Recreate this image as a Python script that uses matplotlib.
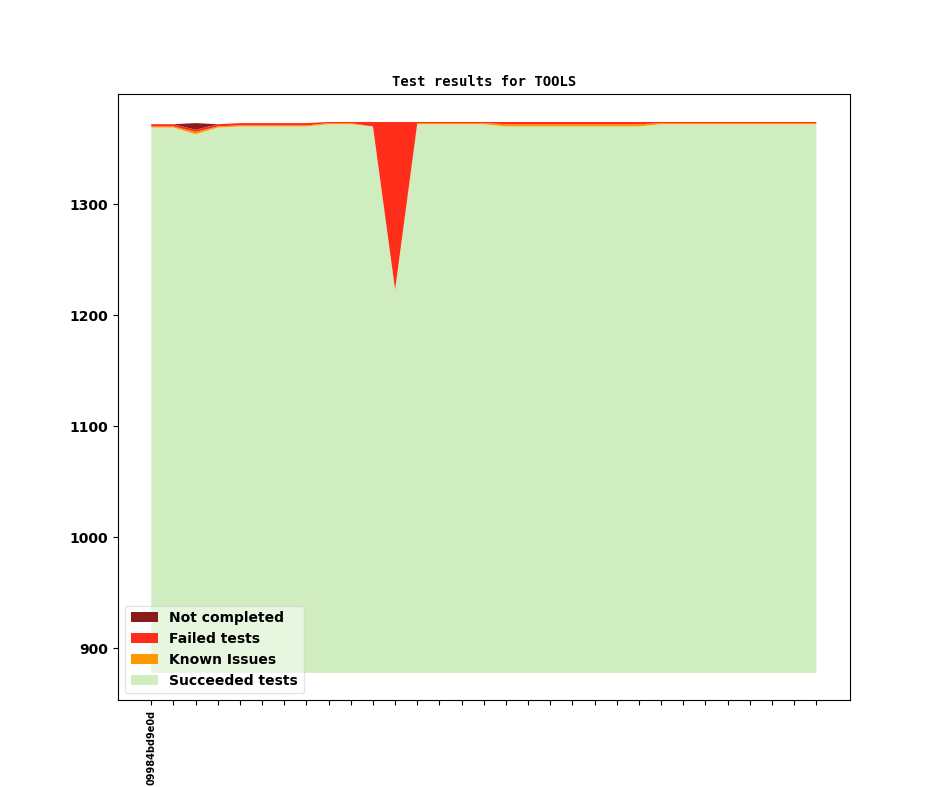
import matplotlib
matplotlib.use("Agg")
import matplotlib.pyplot as plt
import numpy as np

title = "Test results for TOOLS"
tick_labels = ["09984bd9e0d"] + [""] * 30

succeeded = [1369, 1369, 1363, 1369, 1370, 1370, 1370, 1370, 1372, 1372, 1370, 1223,
             1372, 1372, 1372, 1372, 1370, 1370, 1370, 1370, 1370, 1370, 1370,
             1372, 1372, 1372, 1372, 1372, 1372, 1372, 1372]
known = [1, 1, 2, 1, 1, 1, 1, 1, 1, 1, 0, 0,
         1, 1, 1, 1, 2, 2, 2, 2, 2, 2, 2,
         1, 1, 1, 1, 1, 1, 1, 1]
failed = [2, 2, 2, 2, 2, 2, 2, 2, 1, 1, 4, 151,
          1, 1, 1, 1, 2, 2, 2, 2, 2, 2, 2,
          1, 1, 1, 1, 1, 1, 1, 1]
not_completed = [0, 0, 6, 0, 0, 0, 0, 0, 0, 0, 0, 0,
                 0, 0, 0, 0, 0, 0, 0, 0, 0, 0, 0,
                 0, 0, 0, 0, 0, 0, 0, 0]
base = 878

series = [succeeded, known, failed, not_completed]
labels = ["Succeeded tests", "Known Issues", "Failed tests", "Not completed"]
colors = ["#cfedbf", "#ff9900", "#ff2d19", "#8b1a1a"]

fig = plt.figure(figsize=(9.44, 7.87), dpi=100)
ax = fig.add_subplot(111)
x = np.arange(len(succeeded))
lower = np.full(len(x), float(base))
handles = []
for i, (s, lab, c) in enumerate(zip(series, labels, colors)):
    if i == 0:
        top = np.array(s, dtype=float)
    else:
        top = lower + np.array(s, dtype=float)
    h = ax.fill_between(x, lower, top, facecolor=c, edgecolor="none", label=lab)
    handles.append(h)
    lower = top

ax.set_title(title, fontsize=10, fontweight="bold", family="DejaVu Sans Mono")
ax.set_xticks(x)
ax.set_xticklabels(tick_labels, rotation=90, fontsize=7, fontweight="bold")
for t in ax.get_yticklabels():
    t.set_fontweight("bold")
ax.legend(handles[::-1], labels[::-1], loc="lower left", framealpha=0.5,
          prop={"weight": "bold", "size": 10})
fig.savefig("out.png", dpi=100)
